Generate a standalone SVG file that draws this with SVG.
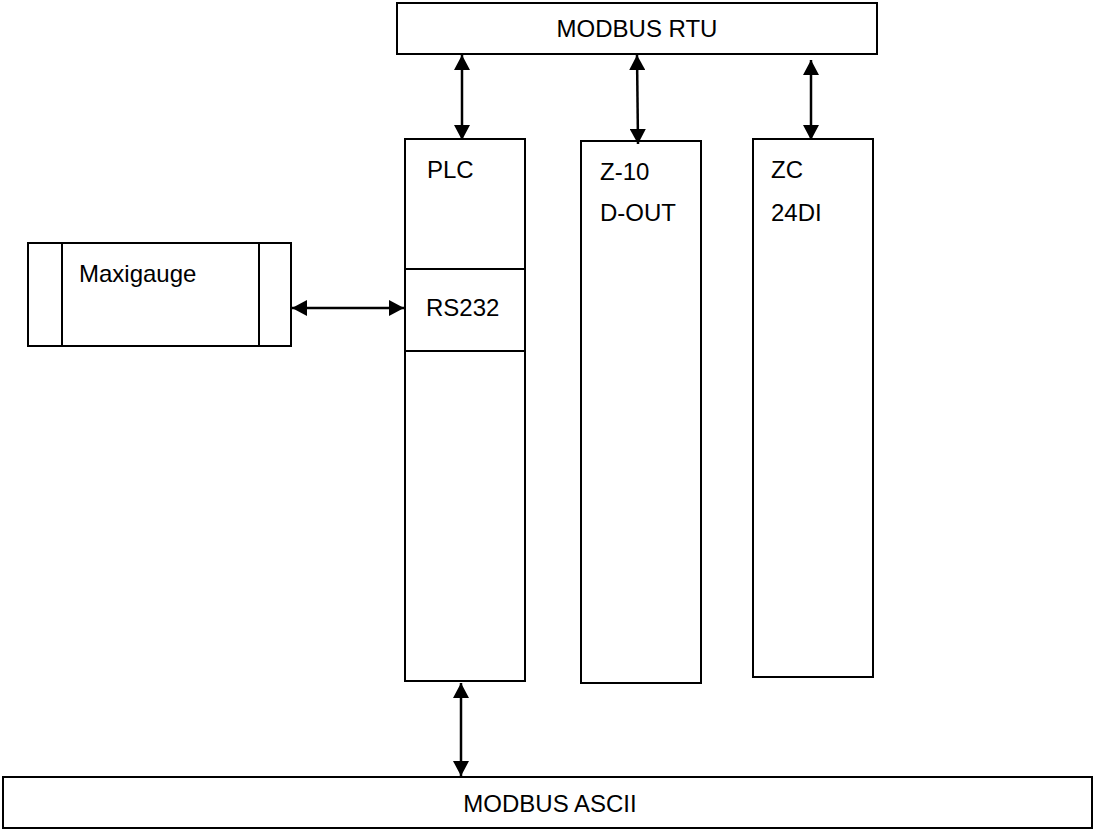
<svg xmlns="http://www.w3.org/2000/svg" width="1097" height="831" viewBox="0 0 1097 831">
<style>
.box{fill:#fff;stroke:#000;stroke-width:2}
.ln{fill:none;stroke:#000;stroke-width:2}
.t{font-family:"Liberation Sans",Arial,sans-serif;font-size:24px;fill:#000}
.c{stroke:#000;stroke-width:2.5;fill:none;marker-start:url(#ah);marker-end:url(#ah)}
</style>
<defs>
<marker id="ah" viewBox="0 0 15 16" refX="15" refY="8" markerWidth="15" markerHeight="16" markerUnits="userSpaceOnUse" orient="auto-start-reverse">
<path d="M0,0 L15,8 L0,16 Z" fill="#000"/>
</marker>
</defs>
<rect width="1097" height="831" fill="#fff"/>
<g id="modbus-rtu">
<rect class="box" x="397" y="3" width="480" height="51"/>
<text class="t" x="637" y="37" text-anchor="middle">MODBUS RTU</text>
</g>
<g id="plc">
<rect class="box" x="405" y="139" width="120" height="542"/>
<line class="ln" x1="405" y1="269" x2="525" y2="269"/>
<line class="ln" x1="405" y1="351" x2="525" y2="351"/>
<text class="t" x="427" y="178">PLC</text>
<text class="t" x="426" y="316">RS232</text>
</g>
<g id="z10">
<rect class="box" x="581" y="141" width="120" height="542"/>
<text class="t" x="600" y="180">Z-10</text>
<text class="t" x="600" y="221">D-OUT</text>
</g>
<g id="zc">
<rect class="box" x="753" y="139" width="120" height="538"/>
<text class="t" x="771" y="178">ZC</text>
<text class="t" x="771" y="221">24DI</text>
</g>
<g id="maxigauge">
<rect class="box" x="28" y="243" width="263" height="103"/>
<line class="ln" x1="62" y1="243" x2="62" y2="346"/>
<line class="ln" x1="259" y1="243" x2="259" y2="346"/>
<text class="t" x="79" y="282">Maxigauge</text>
</g>
<g id="modbus-ascii">
<rect class="box" x="3" y="777" width="1089" height="51"/>
<text class="t" x="550" y="812" text-anchor="middle">MODBUS ASCII</text>
</g>
<g id="connectors">
<line class="c" x1="462" y1="55" x2="462" y2="140"/>
<line class="c" x1="637" y1="55" x2="638" y2="144"/>
<line class="c" x1="811" y1="60" x2="811" y2="140"/>
<line class="c" x1="292" y1="308" x2="404" y2="308"/>
<line class="c" x1="461" y1="683" x2="461" y2="776"/>
</g>
</svg>
